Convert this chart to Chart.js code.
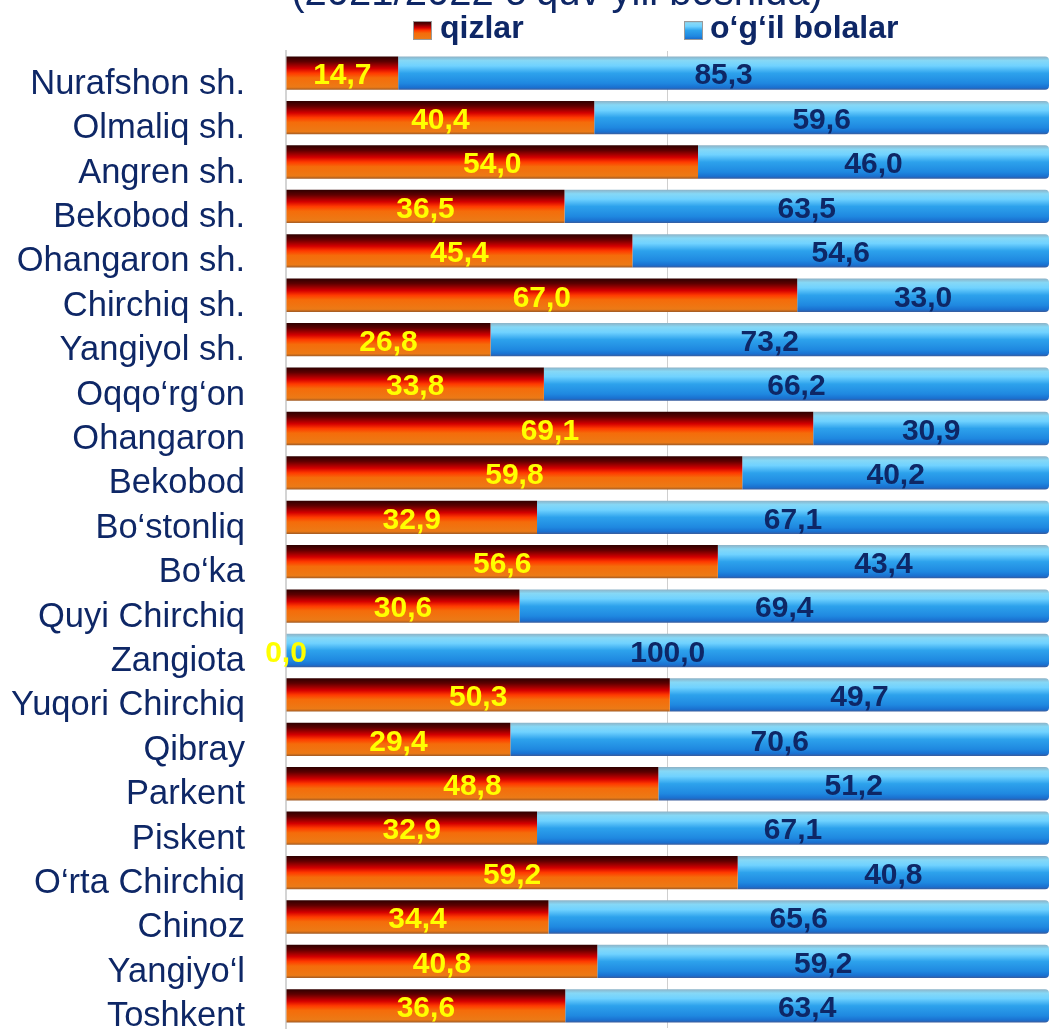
<!DOCTYPE html>
<html>
<head>
<meta charset="utf-8">
<title>qizlar / o‘g‘il bolalar</title>
<script src="https://cdn.jsdelivr.net/npm/chart.js"></script>
<style>
  html, body { margin: 0; padding: 0; background: #ffffff; overflow: hidden; }
  #wrap { position: relative; width: 1054px; height: 1031px; }
</style>
</head>
<body>
<div id="wrap"><canvas id="chart"></canvas></div>
<script>
'use strict';

//  ************************** DATA ****************************************** //
let districts = [
  'Nurafshon sh.', 'Olmaliq sh.', 'Angren sh.', 'Bekobod sh.', 'Ohangaron sh.',
  'Chirchiq sh.', 'Yangiyol sh.', 'Oqqo‘rg‘on', 'Ohangaron', 'Bekobod',
  'Bo‘stonliq', 'Bo‘ka', 'Quyi Chirchiq', 'Zangiota', 'Yuqori Chirchiq',
  'Qibray', 'Parkent', 'Piskent', 'O‘rta Chirchiq', 'Chinoz', 'Yangiyo‘l', 'Toshkent'
];
let girls = [14.7, 40.4, 54.0, 36.5, 45.4, 67.0, 26.8, 33.8, 69.1, 59.8, 32.9,
  56.6, 30.6, 0.0, 50.3, 29.4, 48.8, 32.9, 59.2, 34.4, 40.8, 36.6];
let boys = [85.3, 59.6, 46.0, 63.5, 54.6, 33.0, 73.2, 66.2, 30.9, 40.2, 67.1,
  43.4, 69.4, 100.0, 49.7, 70.6, 51.2, 67.1, 40.8, 65.6, 59.2, 63.4];
let seriesNames = ['qizlar', 'o‘g‘il bolalar'];
let titleText = '(2021/2022 o‘quv yili boshida)';

// ************************** STYLE ***************************************** //
const FONT = '"Liberation Sans", Arial, sans-serif';
const NAVY = '#0e2766';
const BAR_FRACTION = 0.75;

let redStops = [
  [0, '#2e0000'], [0.15, '#5e0000'], [0.36, '#d40000'], [0.5, '#ff3a00'],
  [0.64, '#f56c0a'], [0.92, '#ec7a16'], [1, '#a05a24']
];
let blueStops = [
  [0, '#8db2c6'], [0.12, '#86d8f6'], [0.28, '#70d2ff'], [0.5, '#2da2ec'],
  [0.8, '#1f88e0'], [0.93, '#1a70d0'], [1, '#3a5c9c']
];

// ************************** HELPERS *************************************** //
function makeGradient(ctx, top, bottom, stops) {
  let g = ctx.createLinearGradient(0, top, 0, bottom);
  stops.forEach(s => g.addColorStop(s[0], s[1]));
  return g;
}

function barFill(stops) {
  return function(context) {
    let chart = context.chart;
    let area = chart.chartArea;
    if(!area || context.dataIndex === undefined) {
      return stops[3][1];
    }
    let yScale = chart.scales.y;
    let center = yScale.getPixelForValue(context.dataIndex);
    let half = (area.bottom - area.top) / districts.length * BAR_FRACTION / 2;
    return makeGradient(chart.ctx, center - half, center + half, stops);
  };
}

function formatValue(v) {
  return v.toFixed(1).replace('.', ',');
}

// ************************** PLUGINS *************************************** //
// value labels in the middle of every segment
let valueLabels = {
  id: 'valueLabels',
  afterDatasetsDraw(chart) {
    let ctx = chart.ctx;
    let colors = ['#ffff00', NAVY];
    ctx.save();
    ctx.font = 'bold 30px ' + FONT;
    ctx.textAlign = 'center';
    ctx.textBaseline = 'middle';
    chart.data.datasets.forEach((ds, di) => {
      let meta = chart.getDatasetMeta(di);
      ctx.fillStyle = colors[di];
      meta.data.forEach((bar, i) => {
        let x = (bar.x + bar.base) / 2;
        ctx.fillText(formatValue(ds.data[i]), x, bar.y + 3);
      });
    });
    ctx.restore();
  }
};

// title (cut by the top edge) and the legend row
let header = {
  id: 'header',
  afterDraw(chart) {
    let ctx = chart.ctx;
    ctx.save();
    ctx.fillStyle = NAVY;
    ctx.font = '40px ' + FONT;
    ctx.textAlign = 'center';
    ctx.textBaseline = 'alphabetic';
    ctx.fillText(titleText, 557, 5);

    let items = [
      { box: 413, text: 440, stops: redStops },
      { box: 684, text: 710, stops: blueStops }
    ];
    ctx.font = 'bold 32px ' + FONT;
    ctx.textAlign = 'left';
    items.forEach((it, i) => {
      ctx.fillStyle = makeGradient(ctx, 21, 40, it.stops);
      ctx.fillRect(it.box, 21, 19, 19);
      ctx.strokeStyle = '#9a9a9a';
      ctx.lineWidth = 1;
      ctx.strokeRect(it.box + 0.5, 21.5, 18, 18);
      ctx.fillStyle = NAVY;
      ctx.fillText(seriesNames[i], it.text, 38);
    });
    ctx.restore();
  }
};

// ************************** CHART ***************************************** //
let chart = document.getElementById('chart');

let chartObj = {
  type: 'bar',
  data: {
    labels: districts,
    datasets: [{
      label: seriesNames[0],
      data: girls,
      backgroundColor: barFill(redStops),
      borderWidth: 0,
      barPercentage: BAR_FRACTION,
      categoryPercentage: 1
    },
    {
      label: seriesNames[1],
      data: boys,
      backgroundColor: barFill(blueStops),
      borderWidth: 0,
      borderRadius: { topRight: 4, bottomRight: 4 },
      borderSkipped: false,
      barPercentage: BAR_FRACTION,
      categoryPercentage: 1
    }]
  },
  options: {
    indexAxis: 'y',
    responsive: true,
    maintainAspectRatio: false,
    animation: false,
    layout: {
      padding: { top: 51, right: 5, bottom: 3, left: 0 }
    },
    scales: {
      x: {
        stacked: true,
        min: 0,
        max: 100,
        ticks: { display: false, stepSize: 50 },
        grid: {
          drawTicks: false,
          color: (c) => (c.tick && c.tick.value === 50) ? '#cfcfcf' : 'rgba(0,0,0,0)'
        },
        border: { display: false }
      },
      y: {
        stacked: true,
        afterFit(scale) {
          scale.width = 286;
          scale.paddingTop = 0;
          scale.paddingBottom = 0;
        },
        ticks: {
          autoSkip: false,
          padding: 41,
          labelOffset: 11,
          color: NAVY,
          font: { family: FONT, size: 34.5 }
        },
        grid: { display: false, drawTicks: false },
        border: { color: '#d4d4d4', width: 2 }
      }
    },
    plugins: {
      legend: { display: false },
      tooltip: { enabled: false }
    }
  },
  plugins: [valueLabels, header]
};

new Chart(chart, chartObj);
</script>
</body>
</html>
